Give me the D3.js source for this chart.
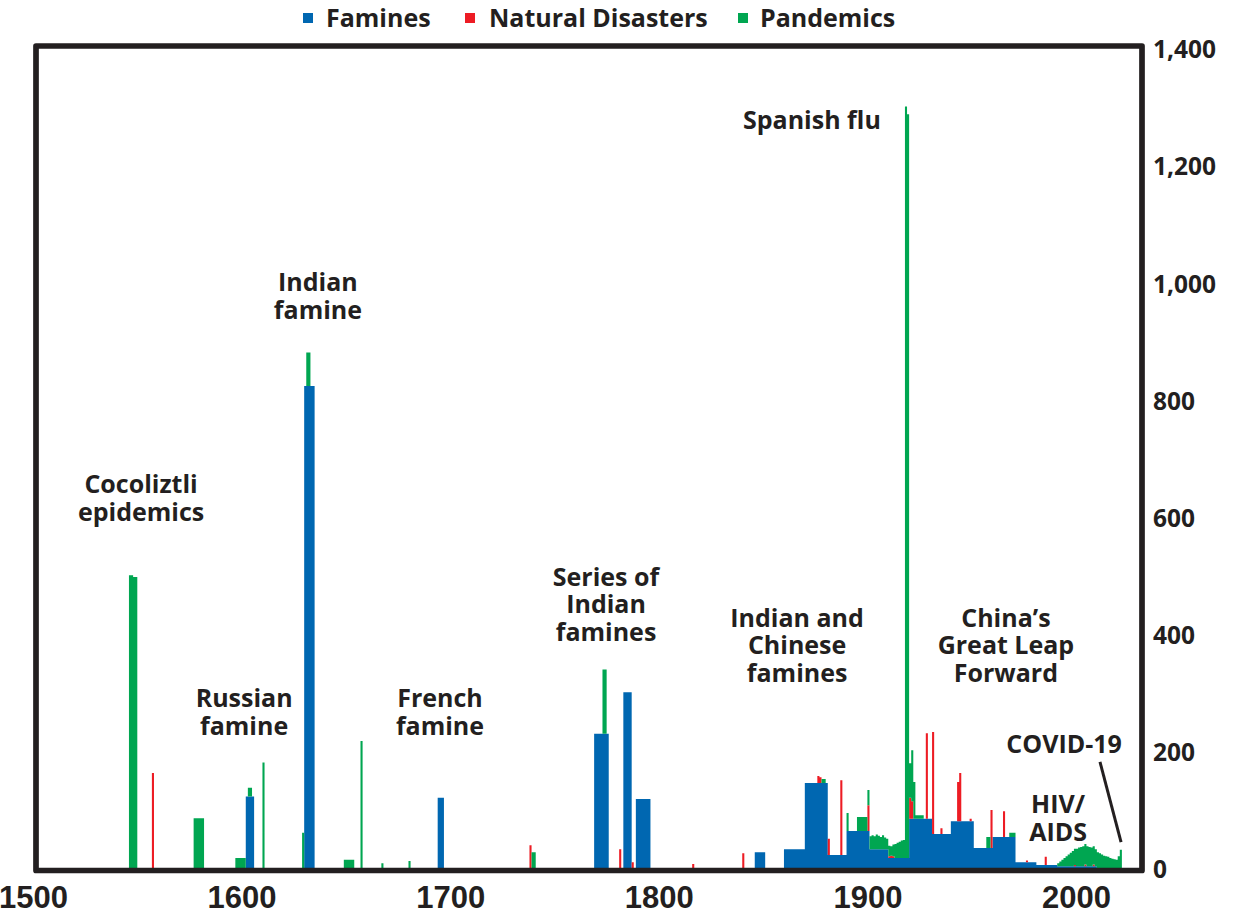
<!DOCTYPE html>
<html>
<head>
<meta charset="utf-8">
<script src="https://cdn.jsdelivr.net/npm/d3@7"></script>
<style>
  html, body { margin: 0; padding: 0; background: #ffffff; }
  svg { display: block; }
  text { font-family: "Open Sans", "Noto Sans", sans-serif; font-weight: 700; fill: #231f20; }
</style>
</head>
<body>
<script>
// ---------------- DATA ----------------
// Famines: [first year, last year, deaths per year]
const faminePeriods = [
  [1602, 1605, 122], [1630, 1634, 823], [1694, 1696, 120], [1769, 1775, 229],
  [1783, 1786, 300], [1789, 1795, 118], [1846, 1850, 27], [1860, 1869, 32],
  [1870, 1880, 145], [1881, 1889, 22], [1890, 1900, 63], [1901, 1909, 32],
  [1910, 1919, 17], [1920, 1930, 84], [1931, 1939, 58], [1940, 1950, 80],
  [1951, 1959, 34], [1960, 1970, 53], [1971, 1980, 10], [1981, 1990, 5],
  [1991, 2009, 3]
];
// Natural disasters: [year, value]
const disasterYears = [
  [1557, 162], [1738, 39], [1781, 32], [1787, 10], [1816, 7], [1840, 25],
  [1876, 12], [1877, 10], [1881, 28], [1887, 128], [1900, 44], [1910, 3],
  [1911, 4], [1912, 3], [1920, 36], [1921, 30], [1928, 146], [1931, 174],
  [1935, 10], [1943, 67], [1944, 82], [1949, 4], [1959, 65], [1965, 44],
  [1976, 3], [1985, 14], [1999, 2], [2004, 3], [2008, 3]
];
// Pandemics: [first year, last year, value]
const pandemicPeriods = [
  [1546, 1547, 500], [1548, 1549, 497], [1577, 1581, 85], [1597, 1601, 17],
  [1603, 1604, 15], [1610, 1610, 180], [1629, 1629, 60], [1631, 1632, 57],
  [1649, 1653, 14], [1657, 1657, 217], [1667, 1667, 8], [1680, 1680, 12],
  [1739, 1740, 27], [1773, 1774, 110], [1878, 1879, 7], [1890, 1890, 31],
  [1895, 1899, 24], [1900, 1900, 26],
  [1901, 1901, 22], [1902, 1902, 24], [1903, 1903, 22], [1904, 1904, 25],
  [1905, 1905, 23], [1906, 1906, 21], [1907, 1907, 24], [1908, 1908, 20],
  [1909, 1909, 18], [1910, 1910, 18], [1911, 1911, 16], [1912, 1912, 20],
  [1913, 1913, 24], [1914, 1914, 26], [1915, 1915, 28], [1916, 1916, 30],
  [1917, 1917, 31], [1918, 1918, 1283], [1919, 1919, 1270], [1920, 1920, 59],
  [1921, 1921, 87], [1922, 1922, 63], [1923, 1926, 6], [1957, 1958, 19],
  [1968, 1970, 7],
  [1991, 1991, 5], [1992, 1992, 8], [1993, 1993, 11], [1994, 1994, 14],
  [1995, 1995, 17], [1996, 1996, 20], [1997, 1997, 23], [1998, 1998, 26],
  [1999, 1999, 28], [2000, 2000, 30], [2001, 2001, 32], [2002, 2002, 33],
  [2003, 2003, 34], [2004, 2004, 35], [2005, 2005, 34], [2006, 2006, 33],
  [2007, 2007, 32], [2008, 2008, 31], [2009, 2009, 29], [2010, 2010, 27],
  [2011, 2011, 25], [2012, 2012, 23], [2013, 2013, 21], [2014, 2014, 20],
  [2015, 2015, 19], [2016, 2016, 17], [2017, 2017, 16], [2018, 2018, 15],
  [2019, 2019, 14], [2020, 2020, 20], [2021, 2021, 31]
];

const seriesKeys = ["famines", "disasters", "pandemics"];
const seriesNames = ["Famines", "Natural Disasters", "Pandemics"];
const seriesColors = ["#0067b1", "#ed1c24", "#00a651"];

const xTicks = [1500, 1600, 1700, 1800, 1900, 2000];
const yTicks = [0, 200, 400, 600, 800, 1000, 1200, 1400];

const annotations = [
  { year: 1551.8, value: 655, lines: ["Cocoliztli", "epidemics"] },
  { year: 1601.2, value: 290, lines: ["Russian", "famine"] },
  { year: 1636.6, value: 1000, lines: ["Indian", "famine"] },
  { year: 1695.1, value: 290, lines: ["French", "famine"] },
  { year: 1774.7, value: 497, lines: ["Series of", "Indian", "famines"] },
  { year: 1866.3, value: 427, lines: ["Indian and", "Chinese", "famines"] },
  { year: 1966.4, value: 427, lines: ["China\u2019s", "Great Leap", "Forward"] },
  { year: 1873.4, value: 1277, lines: ["Spanish flu"] },
  { year: 1994.3, value: 212, lines: ["COVID-19"] },
  { year: 1991.4, value: 109, lines: ["HIV/", "AIDS"] }
];

// ---------------- BUILD TABLE ----------------
const firstYear = 1500, lastYear = 2021;
const table = d3.range(firstYear, lastYear + 2).map(year => ({ year, famines: 0, disasters: 0, pandemics: 0 }));
const byYear = new Map(table.map(d => [d.year, d]));
faminePeriods.forEach(([a, b, v]) => { for (let yr = a; yr <= b; yr++) byYear.get(yr).famines += v; });
disasterYears.forEach(([yr, v]) => { byYear.get(yr).disasters += v; });
pandemicPeriods.forEach(([a, b, v]) => { for (let yr = a; yr <= b; yr++) byYear.get(yr).pandemics += v; });

const stacked = d3.stack().keys(seriesKeys)(table);

// ---------------- CHART ----------------
const W = 1233, H = 915;
const svg = d3.select("body").append("svg").attr("width", W).attr("height", H);

const x = d3.scaleLinear().domain([1500, 2000]).range([33, 1076]);
const y = d3.scaleLinear().domain([0, 1400]).range([868, 48]);

const frameLeft = 36, frameRight = 1142, frameTop = 46, frameBottom = 870.5;

// bars: one stepped area per series (each year is one bar of one-year width)
const area = d3.area()
  .curve(d3.curveStepAfter)
  .x(d => x(d.data.year))
  .y0(d => y(d[0]))
  .y1(d => y(d[1]));

const layers = svg.append("g").attr("class", "bars");
stacked.forEach((layer, i) => {
  layers.append("path")
    .datum(layer)
    .attr("fill", seriesColors[i])
    .attr("d", area);
});

// frame
svg.append("rect")
  .attr("x", frameLeft).attr("y", frameTop)
  .attr("width", frameRight - frameLeft).attr("height", frameBottom - frameTop)
  .attr("fill", "none").attr("stroke", "#231f20").attr("stroke-width", 5.7)
  .attr("stroke-linejoin", "round");

// y axis (right), labels only
const yAxis = d3.axisRight(y).tickValues(yTicks).tickSize(0).tickPadding(0).tickFormat(d3.format(","));
const yg = svg.append("g").attr("transform", `translate(1153,1)`).call(yAxis);
yg.select(".domain").remove();
yg.selectAll("text")
  .attr("x", 0).attr("dy", "0.36em")
  .style("font-family", '"Open Sans", sans-serif')
  .style("font-weight", 700).style("font-size", "24.5px").style("fill", "#231f20");

// x axis labels
const xAxis = d3.axisBottom(x).tickValues(xTicks).tickSize(0).tickPadding(0).tickFormat(d3.format("d"));
const xg = svg.append("g").attr("transform", `translate(0,897)`).call(xAxis);
xg.select(".domain").remove();
xg.selectAll("text")
  .attr("y", 0).attr("dy", "0.36em")
  .style("font-family", '"Liberation Sans Narrow", "Liberation Sans", sans-serif')
  .style("font-weight", 700).style("font-size", "31px").style("fill", "#231f20");

// legend
const legendItems = [
  { sq: 303, tx: 326 },
  { sq: 465, tx: 489 },
  { sq: 738, tx: 760 }
];
const legend = svg.append("g").attr("class", "legend");
seriesNames.forEach((name, i) => {
  legend.append("rect")
    .attr("x", legendItems[i].sq).attr("y", 13).attr("width", 10).attr("height", 10)
    .attr("fill", seriesColors[i]);
  legend.append("text")
    .attr("x", legendItems[i].tx).attr("y", 18).attr("dy", "0.36em")
    .style("font-size", "25px")
    .text(name);
});

// annotations
const lineH = 27.5;
annotations.forEach(a => {
  const t = svg.append("text")
    .attr("text-anchor", "middle")
    .style("font-size", "25px");
  a.lines.forEach((ln, k) => {
    t.append("tspan")
      .attr("x", x(a.year))
      .attr("y", y(a.value) + k * lineH)
      .attr("dy", "0.36em")
      .text(ln);
  });
});

// COVID pointer line
svg.append("line")
  .attr("x1", x(2011.5)).attr("y1", y(181))
  .attr("x2", x(2021.6)).attr("y2", y(44))
  .attr("stroke", "#231f20").attr("stroke-width", 3);
</script>
</body>
</html>
